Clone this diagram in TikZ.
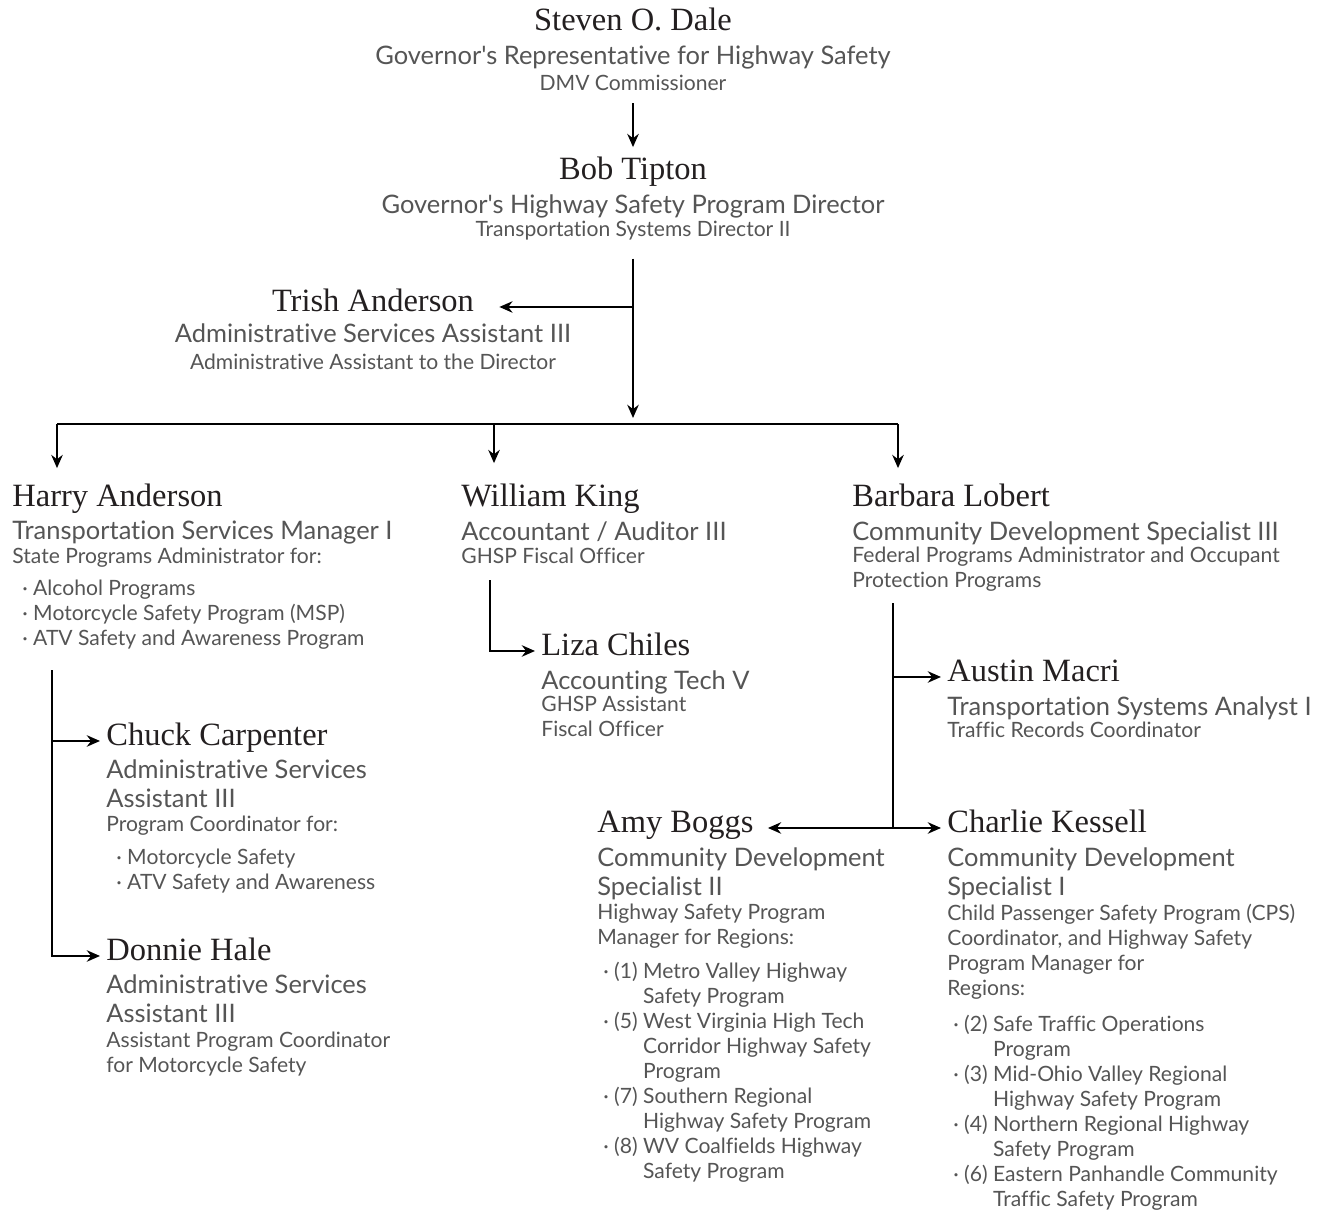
\documentclass[tikz,border=0pt]{standalone}
\usepackage{fontspec}
\setmainfont{Liberation Serif}
\newfontfamily\rolefont[Ligatures=NoCommon]{Lato}
\usetikzlibrary{arrows.meta}
\definecolor{inkname}{HTML}{231F20}
\definecolor{inkrole}{HTML}{555555}
\newcommand{\bul}{\textperiodcentered\ }
\newcommand{\cont}{\phantom{\textperiodcentered\ (0)\ }}

\begin{document}
\begin{tikzpicture}[x=0.02cm,y=-0.02cm,
    person/.style={font=\fontsize{18.5}{22}\selectfont, text=inkname, inner sep=0pt},
    title/.style={font=\rolefont\fontsize{14.5}{16.5}\selectfont, text=inkrole, inner sep=0pt, align=left},
    duty/.style={font=\rolefont\fontsize{12}{14.2}\selectfont, text=inkrole, inner sep=0pt, align=left},
    wire/.style={line width=1.5pt},
    link/.style={line width=1.5pt, -{Stealth[length=7.5pt,width=6.5pt]}}]
    \useasboundingbox (0,0) rectangle (1317,1211);

    % Director level
    \node[person, anchor=base] (steven) at (633,30) {Steven O. Dale};
    \node[title, anchor=north, align=center] (steven-title) at (633,45) {Governor's Representative for Highway Safety};
    \node[duty, anchor=north, align=center] (steven-info) at (633,75) {DMV Commissioner};

    \node[person, anchor=base] (bob) at (633,179) {Bob Tipton};
    \node[title, anchor=north, align=center] (bob-title) at (633,194) {Governor's Highway Safety Program Director};
    \node[duty, anchor=north, align=center] (bob-info) at (633,221) {Transportation Systems Director II};

    \node[person, anchor=base] (trish) at (373,311) {Trish Anderson};
    \node[title, anchor=north, align=center] (trish-title) at (373,323) {Administrative Services Assistant III};
    \node[duty, anchor=north, align=center] (trish-info) at (373,354) {Administrative Assistant to the Director};

    % Program managers
    \node[person, anchor=base west] (harry) at (12,506) {Harry Anderson};
    \node[title, anchor=north west] (harry-title) at (12,521) {Transportation Services Manager I};
    \node[duty, anchor=north west] (harry-info) at (12,548) {State Programs Administrator for:};
    \node[duty, anchor=north west] (harry-list) at (22,580) {\bul Alcohol Programs\\\bul Motorcycle Safety Program (MSP)\\\bul ATV Safety and Awareness Program};

    \node[person, anchor=base west] (william) at (461,506) {William King};
    \node[title, anchor=north west] (william-title) at (461,521) {Accountant / Auditor III};
    \node[duty, anchor=north west] (william-info) at (461,548) {GHSP Fiscal Officer};

    \node[person, anchor=base west] (barbara) at (852,506) {Barbara Lobert};
    \node[title, anchor=north west] (barbara-title) at (852,521) {Community Development Specialist III};
    \node[duty, anchor=north west] (barbara-info) at (852,547) {Federal Programs Administrator and Occupant\\Protection Programs};

    % Staff
    \node[person, anchor=base west] (chuck) at (106,745) {Chuck Carpenter};
    \node[title, anchor=north west] (chuck-title) at (106,759) {Administrative Services\\Assistant III};
    \node[duty, anchor=north west] (chuck-info) at (106,816) {Program Coordinator for:};
    \node[duty, anchor=north west] (chuck-list) at (116,849) {\bul Motorcycle Safety\\\bul ATV Safety and Awareness};

    \node[person, anchor=base west] (donnie) at (106,960) {Donnie Hale};
    \node[title, anchor=north west] (donnie-title) at (106,974) {Administrative Services\\Assistant III};
    \node[duty, anchor=north west] (donnie-info) at (106,1032) {Assistant Program Coordinator\\for Motorcycle Safety};

    \node[person, anchor=base west] (liza) at (541,655) {Liza Chiles};
    \node[title, anchor=north west] (liza-title) at (541,670) {Accounting Tech V};
    \node[duty, anchor=north west] (liza-info) at (541,696) {GHSP Assistant\\Fiscal Officer};

    \node[person, anchor=base west] (austin) at (947,681) {Austin Macri};
    \node[title, anchor=north west] (austin-title) at (947,696) {Transportation Systems Analyst I};
    \node[duty, anchor=north west] (austin-info) at (947,722) {Traffic Records Coordinator};

    \node[person, anchor=base west] (amy) at (597,832) {Amy Boggs};
    \node[title, anchor=north west] (amy-title) at (597,847) {Community Development\\Specialist II};
    \node[duty, anchor=north west] (amy-info) at (597,904) {Highway Safety Program\\Manager for Regions:};
    \node[duty, anchor=north west] (amy-list) at (603,962) {\bul(1) Metro Valley Highway\\\cont Safety Program\\\bul(5) West Virginia High Tech\\\cont Corridor Highway Safety\\\cont Program\\\bul(7) Southern Regional\\\cont Highway Safety Program\\\bul(8) WV Coalfields Highway\\\cont Safety Program};

    \node[person, anchor=base west] (charlie) at (947,832) {Charlie Kessell};
    \node[title, anchor=north west] (charlie-title) at (947,847) {Community Development\\Specialist I};
    \node[duty, anchor=north west] (charlie-info) at (947,904) {Child Passenger Safety Program (CPS)\\Coordinator, and Highway Safety\\Program Manager for\\Regions:};
    \node[duty, anchor=north west] (charlie-list) at (953,1015) {\bul(2) Safe Traffic Operations\\\cont Program\\\bul(3) Mid-Ohio Valley Regional\\\cont Highway Safety Program\\\bul(4) Northern Regional Highway\\\cont Safety Program\\\bul(6) Eastern Panhandle Community\\\cont Traffic Safety Program};

    % Connector points
    \coordinate (hub) at (633,424);
    \coordinate (bar-w) at (57,424);
    \coordinate (bar-m) at (494,424);
    \coordinate (bar-e) at (898,424);
    \coordinate (harry-drop) at (52,670);
    \coordinate (william-drop) at (490,580);
    \coordinate (barbara-drop) at (893,603);

    % Connectors
    \draw[link, shorten <=0.24cm, shorten >=0.18cm] (steven-info.south) -- (bob.north);
    \draw[link, shorten <=0.36cm, shorten >=0.12cm] (bob-info.south) -- (hub);
    \draw[link, shorten >=0.5cm] (trish.mid east -| hub) -- (trish.mid east);
    \draw[wire] (bar-w) -- (bar-e);
    \draw[link, shorten >=0.3cm] (bar-w) -- (bar-w |- harry.north);
    \draw[link, shorten >=0.4cm] (bar-m) -- (bar-m |- william.north);
    \draw[link, shorten >=0.3cm] (bar-e) -- (bar-e |- barbara.north);
    \draw[link, shorten >=0.12cm] (harry-drop) |- (donnie.mid west);
    \draw[link, shorten >=0.12cm] (harry-drop |- chuck.mid west) -- (chuck.mid west);
    \draw[link, shorten >=0.12cm] (william-drop) |- (liza.mid west);
    \draw[wire] (barbara-drop) -- (barbara-drop |- charlie.mid west);
    \draw[link, shorten >=0.12cm] (barbara-drop |- austin.mid west) -- (austin.mid west);
    \draw[link, shorten >=0.28cm] (barbara-drop |- amy.mid east) -- (amy.mid east);
    \draw[link, shorten >=0.12cm] (barbara-drop |- charlie.mid west) -- (charlie.mid west);
\end{tikzpicture}
\end{document}
